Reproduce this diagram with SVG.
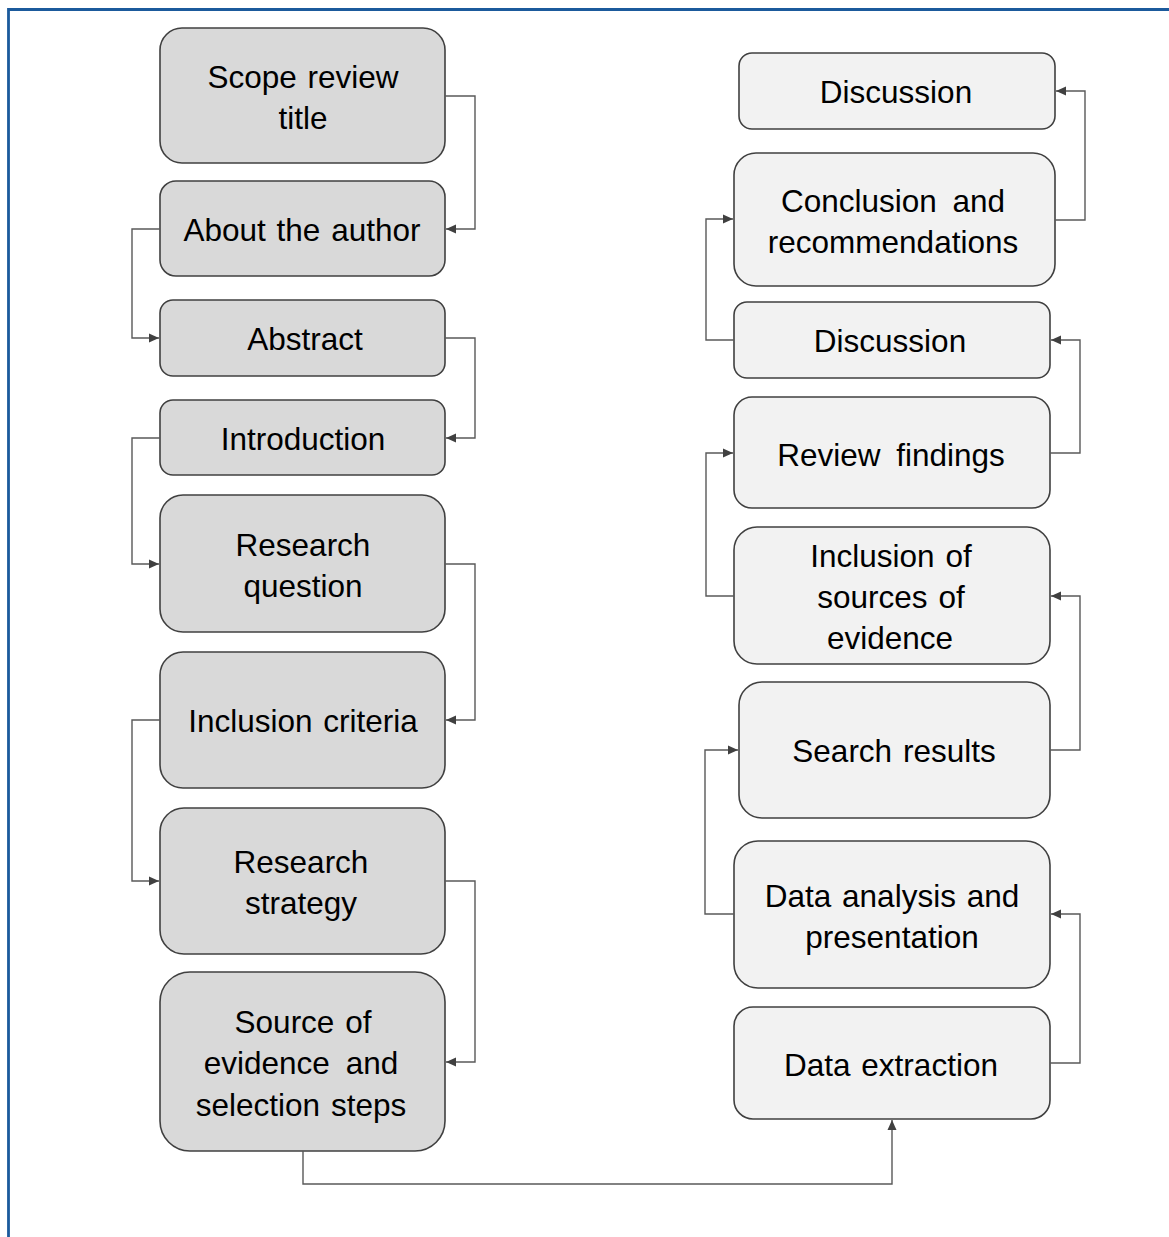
<svg xmlns="http://www.w3.org/2000/svg" width="1169" height="1237" viewBox="0 0 1169 1237">
<style>
.l{fill:#d9d9d9;stroke:#404040;stroke-width:1.6}
.r{fill:#f2f2f2;stroke:#404040;stroke-width:1.6}
text{font-family:"Liberation Sans",Arial,sans-serif;font-size:31.5px;fill:#000;text-anchor:middle;word-spacing:2px}
.w{word-spacing:7px}
.c{fill:none;stroke:#595959;stroke-width:1.4;marker-end:url(#a)}
</style>
<defs>
<marker id="a" markerUnits="userSpaceOnUse" markerWidth="11" markerHeight="10" refX="10" refY="5" orient="auto">
<path d="M0,0.5 L10,5 L0,9.5 Z" fill="#404040"/>
</marker>
</defs>
<rect width="1169" height="1237" fill="#fff"/>
<path d="M8.5 1237 V9.5 H1169" fill="none" stroke="#1b5a9c" stroke-width="2.8"/>

<g id="n1"><rect class="l" x="160" y="28" width="285" height="135" rx="22"/><text x="303" y="88">Scope review</text><text x="303" y="129">title</text></g>
<g id="n2"><rect class="l" x="160" y="181" width="285" height="95" rx="16"/><text x="302" y="241">About the author</text></g>
<g id="n3"><rect class="l" x="160" y="300" width="285" height="76" rx="13"/><text x="305" y="350">Abstract</text></g>
<g id="n4"><rect class="l" x="160" y="400" width="285" height="75" rx="13"/><text x="303" y="450">Introduction</text></g>
<g id="n5"><rect class="l" x="160" y="495" width="285" height="137" rx="23"/><text x="303" y="556">Research</text><text x="303" y="597">question</text></g>
<g id="n6"><rect class="l" x="160" y="652" width="285" height="136" rx="23"/><text x="303" y="732">Inclusion criteria</text></g>
<g id="n7"><rect class="l" x="160" y="808" width="285" height="146" rx="24"/><text x="301" y="873">Research</text><text x="301" y="914">strategy</text></g>
<g id="n8"><rect class="l" x="160" y="972" width="285" height="179" rx="30"/><text x="303" y="1033">Source of</text><text class="w" x="301" y="1074">evidence and</text><text x="301" y="1116">selection steps</text></g>

<g id="r1"><rect class="r" x="739" y="53" width="316" height="76" rx="13"/><text x="896" y="103">Discussion</text></g>
<g id="r2"><rect class="r" x="734" y="153" width="321" height="133" rx="22"/><text class="w" x="893" y="212">Conclusion and</text><text x="893" y="253">recommendations</text></g>
<g id="r3"><rect class="r" x="734" y="302" width="316" height="76" rx="13"/><text x="890" y="352">Discussion</text></g>
<g id="r4"><rect class="r" x="734" y="397" width="316" height="111" rx="18"/><text class="w" x="891" y="466">Review findings</text></g>
<g id="r5"><rect class="r" x="734" y="527" width="316" height="137" rx="23"/><text x="891" y="567">Inclusion of</text><text x="891" y="608">sources of</text><text x="890" y="649">evidence</text></g>
<g id="r6"><rect class="r" x="739" y="682" width="311" height="136" rx="23"/><text x="894" y="762">Search results</text></g>
<g id="r7"><rect class="r" x="734" y="841" width="316" height="147" rx="24"/><text x="892" y="907">Data analysis and</text><text x="892" y="948">presentation</text></g>
<g id="r8"><rect class="r" x="734" y="1007" width="316" height="112" rx="19"/><text x="891" y="1076">Data extraction</text></g>

<g id="connectors">
<path class="c" d="M445 96 H475 V229 H446"/>
<path class="c" d="M160 229 H132 V338 H159"/>
<path class="c" d="M445 338 H475 V438 H446"/>
<path class="c" d="M160 438 H132 V564 H159"/>
<path class="c" d="M445 564 H475 V720 H446"/>
<path class="c" d="M160 720 H132 V881 H159"/>
<path class="c" d="M445 881 H475 V1062 H446"/>
<path class="c" d="M303 1151 V1184 H892 V1120"/>
<path class="c" d="M1050 1063 H1080 V914 H1051"/>
<path class="c" d="M734 914 H705 V750 H738"/>
<path class="c" d="M1050 750 H1080 V596 H1051"/>
<path class="c" d="M734 596 H706 V453 H733"/>
<path class="c" d="M1050 453 H1080 V340 H1051"/>
<path class="c" d="M734 340 H706 V219 H733"/>
<path class="c" d="M1055 220 H1085 V91 H1056"/>
</g>
</svg>
